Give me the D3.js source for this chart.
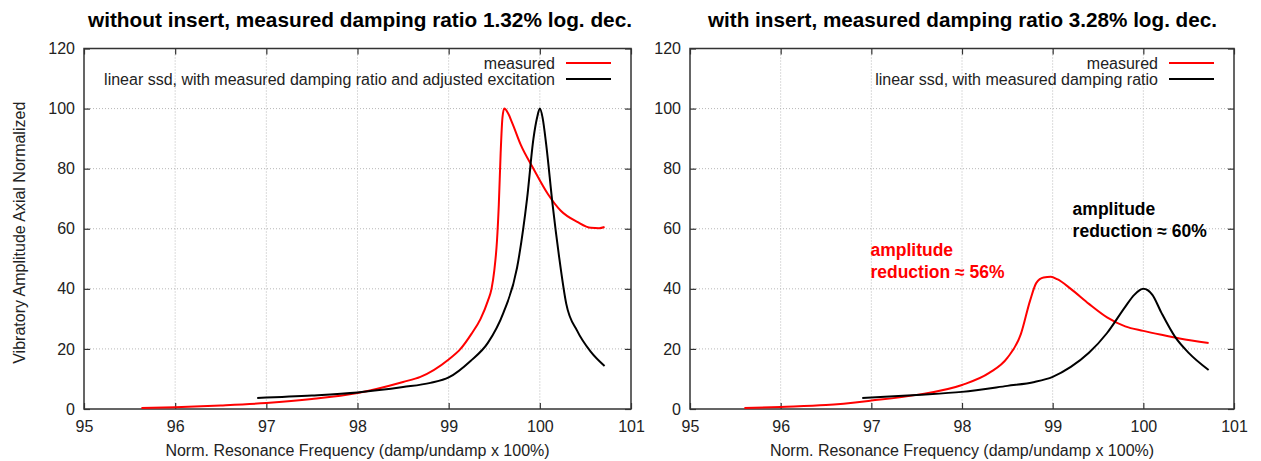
<!DOCTYPE html>
<html>
<head>
<meta charset="utf-8">
<script src="https://cdn.jsdelivr.net/npm/d3@7"></script>
<style>
  body { margin: 0; background: #fff; }
  svg { display: block; }
  text { font-family: "Liberation Sans", Arial, sans-serif; fill: #222; }
</style>
</head>
<body>
<div id="app"></div>
<script>
const width = 1261
const height = 461

const xTicks = [95, 96, 97, 98, 99, 100, 101]
const yTicks = [0, 20, 40, 60, 80, 100, 120]

const titles = [
  'without insert, measured damping ratio 1.32% log. dec.',
  'with insert, measured damping ratio 3.28% log. dec.'
]
const xTitle = 'Norm. Resonance Frequency (damp/undamp x 100%)'
const yTitle = 'Vibratory Amplitude Axial Normalized'
const legendLeft = ['measured', 'linear ssd, with measured damping ratio and adjusted excitation']
const legendRight = ['measured', 'linear ssd, with measured damping ratio']

// without insert
const leftMeasFreq = [95.63, 96, 96.5, 97, 97.5, 98, 98.5, 98.69, 99, 99.13, 99.25, 99.35, 99.43, 99.47, 99.5, 99.53, 99.55, 99.57, 99.59, 99.61, 99.65, 99.7, 99.79, 99.93, 100.09, 100.23, 100.41, 100.56, 100.65, 100.71]
const leftMeasAmp  = [0.3, 0.6, 1.2, 2, 3.3, 5.3, 9, 10.7, 16.5, 20, 25, 30, 36, 40, 46, 56, 68, 85, 97, 100, 98.5, 95, 88, 80, 71.5, 66, 62.3, 60.3, 60.2, 60.6]
const leftSsdFreq  = [96.9, 97.5, 98, 98.5, 98.8, 99, 99.24, 99.43, 99.6, 99.75, 99.86, 99.93, 99.97, 100, 100.03, 100.07, 100.14, 100.21, 100.29, 100.41, 100.56, 100.71]
const leftSsdAmp   = [3.7, 4.5, 5.5, 7.3, 8.7, 10.5, 16, 22, 32, 47, 70, 90, 97, 100, 97, 88, 68, 51, 35, 26, 19, 14.3]

// with insert
const rightMeasFreq = [95.6, 96, 96.5, 97, 97.5, 98, 98.3, 98.5, 98.65, 98.75, 98.82, 98.9, 98.98, 99.05, 99.2, 99.4, 99.6, 99.8, 100, 100.2, 100.4, 100.72]
const rightMeasAmp  = [0.3, 0.7, 1.3, 2.8, 4.7, 8, 12, 17, 25, 36, 42, 43.8, 44, 43.2, 40, 35, 30.5, 27.5, 26, 24.7, 23.5, 22]
const rightSsdFreq  = [96.9, 97.5, 98, 98.5, 98.8, 99, 99.2, 99.4, 99.6, 99.8, 99.9, 100, 100.1, 100.2, 100.35, 100.5, 100.72]
const rightSsdAmp   = [3.7, 4.7, 5.7, 7.7, 9, 10.7, 14, 18.7, 25.3, 34, 38, 40, 38, 32, 24, 18.7, 13]

const notes = [
  { lines: ['amplitude', 'reduction \u2248 56%'], color: '#ff0000', f: 96.99, a: 51 },
  { lines: ['amplitude', 'reduction \u2248 60%'], color: '#000', f: 99.22, a: 64.5 }
]

const panels = [
  { left: 84, right: 631, title: titles[0], titleX: [88, 632], legend: legendLeft,
    series: [[leftMeasFreq, leftMeasAmp, '#ff0000'], [leftSsdFreq, leftSsdAmp, '#000']], yLabel: true },
  { left: 690, right: 1234, title: titles[1], titleX: [708, 1217], legend: legendRight,
    series: [[rightMeasFreq, rightMeasAmp, '#ff0000'], [rightSsdFreq, rightSsdAmp, '#000']], notes: notes }
]

const plotTop = 48.5
const plotBottom = 409

const svg = d3.select('#app')
  .append('svg')
  .attr('width', width)
  .attr('height', height)

const drawPanel = (p) => {
  const x = d3.scaleLinear().domain([95, 101]).range([p.left, p.right])
  const y = d3.scaleLinear().domain([0, 120]).range([plotBottom, plotTop])
  const g = svg.append('g')

  // dotted grid
  g.selectAll('.gx')
    .data(xTicks.slice(1, -1))
    .enter()
    .append('line')
    .attr('x1', d => x(d)).attr('x2', d => x(d))
    .attr('y1', plotTop).attr('y2', plotBottom)
    .attr('stroke', '#b8b8b8')
    .attr('stroke-dasharray', '1,2')
  g.selectAll('.gy')
    .data(yTicks.slice(1, -1))
    .enter()
    .append('line')
    .attr('x1', p.left).attr('x2', p.right)
    .attr('y1', d => y(d)).attr('y2', d => y(d))
    .attr('stroke', '#b8b8b8')
    .attr('stroke-dasharray', '1,2')

  const fmt = d3.format('d')
  const axisB = d3.axisBottom(x).tickValues(xTicks).tickFormat(fmt).tickSize(-6).tickPadding(12)
  const axisT = d3.axisTop(x).tickValues(xTicks).tickSize(-6).tickFormat('')
  const axisL = d3.axisLeft(y).tickValues(yTicks).tickFormat(fmt).tickSize(-6).tickPadding(9)
  const axisR = d3.axisRight(y).tickValues(yTicks).tickSize(-6).tickFormat('')

  const styleAxis = sel => {
    sel.select('.domain').remove()
    sel.selectAll('line').attr('stroke', '#333').attr('stroke-width', 1.2)
    sel.selectAll('text').attr('font-size', 16).style('font-family', '"Liberation Sans", Arial, sans-serif').attr('fill', '#222')
  }
  g.append('g').attr('transform', `translate(0,${plotBottom})`).call(axisB).call(styleAxis)
  g.append('g').attr('transform', `translate(0,${plotTop})`).call(axisT).call(styleAxis)
  g.append('g').attr('transform', `translate(${p.left},0)`).call(axisL).call(styleAxis)
  g.append('g').attr('transform', `translate(${p.right},0)`).call(axisR).call(styleAxis)

  g.append('rect')
    .attr('x', p.left).attr('y', plotTop)
    .attr('width', p.right - p.left).attr('height', plotBottom - plotTop)
    .attr('fill', 'none').attr('stroke', '#333').attr('stroke-width', 1.5)

  // curves
  const line = d3.line().x(d => x(d[0])).y(d => y(d[1])).curve(d3.curveMonotoneX)
  p.series.forEach(s => {
    g.append('path')
      .datum(s[0].map((f, i) => [f, s[1][i]]))
      .attr('d', line)
      .attr('fill', 'none')
      .attr('stroke', s[2])
      .attr('stroke-width', 2)
  })

  // legend
  const lx = p.right - 76
  p.legend.forEach((t, i) => {
    const ly = 63 + i * 16
    g.append('text')
      .attr('x', lx).attr('y', ly)
      .attr('dy', '0.35em')
      .attr('text-anchor', 'end')
      .attr('font-size', 16)
      .text(t)
    g.append('line')
      .attr('x1', lx + 11).attr('x2', lx + 56)
      .attr('y1', ly).attr('y2', ly)
      .attr('stroke', p.series[i][2])
      .attr('stroke-width', 2)
  })

  // title
  svg.append('text')
    .attr('x', p.titleX[0]).attr('y', 27)
    .attr('font-size', 21)
    .attr('font-weight', 'bold')
    .attr('textLength', p.titleX[1] - p.titleX[0])
    .attr('lengthAdjust', 'spacingAndGlyphs')
    .style('fill', '#000')
    .text(p.title)

  svg.append('text')
    .attr('x', (p.left + p.right) / 2).attr('y', 456)
    .attr('text-anchor', 'middle')
    .attr('font-size', 16)
    .text(xTitle)

  if (p.yLabel) {
    svg.append('text')
      .attr('transform', `translate(25,${(plotTop + plotBottom) / 2 + 4}) rotate(-90)`)
      .attr('text-anchor', 'middle')
      .attr('font-size', 16)
      .text(yTitle)
  }

  if (p.notes) {
    p.notes.forEach(n => {
      n.lines.forEach((t, i) => {
        g.append('text')
          .attr('x', x(n.f)).attr('y', y(n.a) + i * 22)
          .attr('font-size', 17.5)
          .attr('font-weight', 'bold')
          .style('fill', n.color)
          .text(t)
      })
    })
  }
}

panels.forEach(drawPanel)
</script>
</body>
</html>
